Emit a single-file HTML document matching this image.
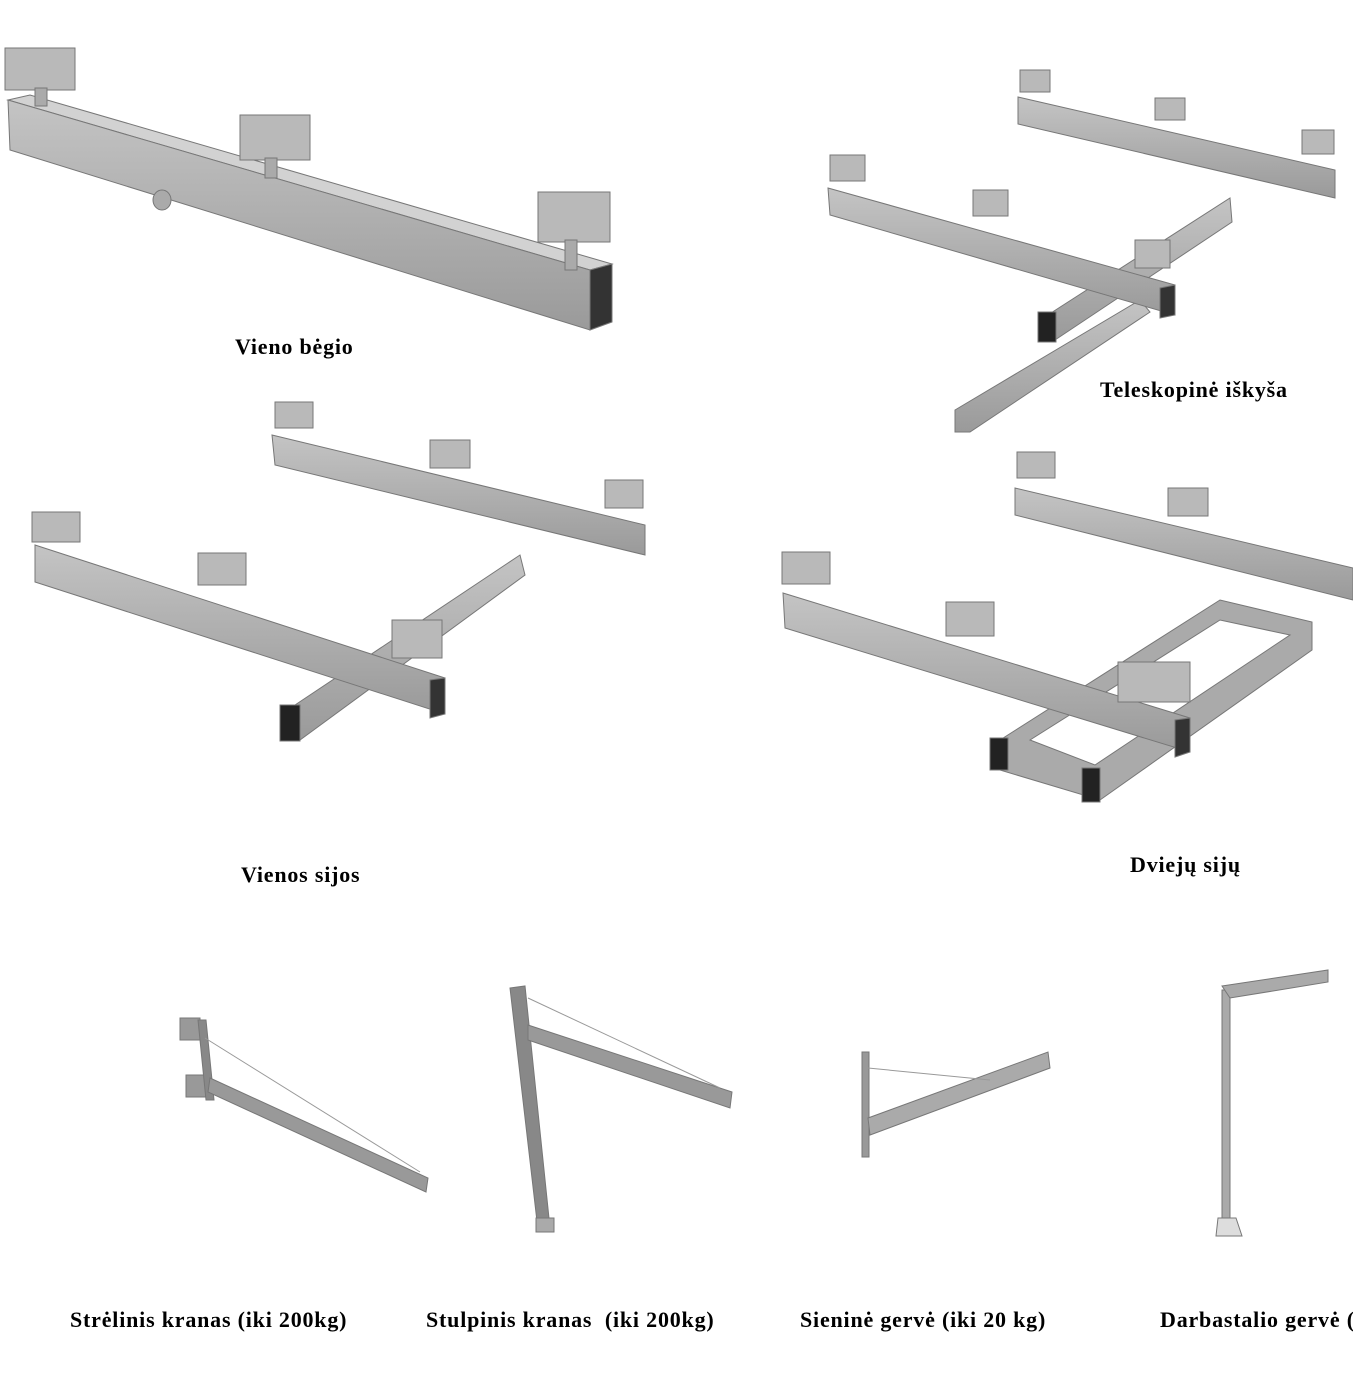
<!DOCTYPE html>
<html><head><meta charset="utf-8"><style>
html,body{margin:0;padding:0;background:#fff;}
body{width:1353px;height:1393px;position:relative;overflow:hidden;}
svg{position:absolute;left:0;top:0;}
.t{position:absolute;font-family:"Liberation Serif",serif;font-weight:bold;font-size:22px;letter-spacing:0.8px;color:#000;white-space:nowrap;}
</style></head><body>
<svg width="1353" height="1393" viewBox="0 0 1353 1393">
<defs>
<linearGradient id="g" x1="0" y1="0" x2="0" y2="1"><stop offset="0" stop-color="#c4c4c4"/><stop offset="1" stop-color="#9a9a9a"/></linearGradient>
</defs>
<g stroke="#777" stroke-width="1">
<polygon points="8,100 30,95 612,264 590,270" fill="#d2d2d2"/>
<polygon points="8,100 590,270 590,330 10,150" fill="url(#g)"/>
<polygon points="590,270 612,264 612,322 590,330" fill="#333"/>
<ellipse cx="162" cy="200" rx="9" ry="10" fill="#aaa"/>
<rect x="5" y="48" width="70" height="42" fill="#b9b9b9"/><rect x="35" y="88" width="12" height="18" fill="#aaa"/>
<rect x="240" y="115" width="70" height="45" fill="#b9b9b9"/><rect x="265" y="158" width="12" height="20" fill="#aaa"/>
<rect x="538" y="192" width="72" height="50" fill="#b9b9b9"/><rect x="565" y="240" width="12" height="30" fill="#aaa"/>
<polygon points="955,410 1140,300 1150,312 970,432 955,432" fill="url(#g)"/>
<polygon points="1040,320 1230,198 1232,222 1055,340" fill="url(#g)"/>
<rect x="1038" y="312" width="18" height="30" fill="#222"/>
<polygon points="1018,97 1335,170 1335,198 1018,124" fill="url(#g)"/>
<polygon points="828,188 1175,285 1175,315 830,215" fill="url(#g)"/>
<polygon points="1160,288 1175,285 1175,315 1160,318" fill="#333"/>
<rect x="1020" y="70" width="30" height="22" fill="#b9b9b9"/><rect x="1155" y="98" width="30" height="22" fill="#b9b9b9"/><rect x="1302" y="130" width="32" height="24" fill="#b9b9b9"/>
<rect x="830" y="155" width="35" height="26" fill="#b9b9b9"/><rect x="973" y="190" width="35" height="26" fill="#b9b9b9"/><rect x="1135" y="240" width="35" height="28" fill="#b9b9b9"/>
<polygon points="272,435 645,525 645,555 275,465" fill="url(#g)"/>
<polygon points="280,715 520,555 525,575 300,740 280,740" fill="url(#g)"/>
<rect x="280" y="705" width="20" height="36" fill="#222"/>
<polygon points="35,545 445,678 445,714 35,582" fill="url(#g)"/>
<polygon points="430,680 445,678 445,714 430,718" fill="#333"/>
<rect x="275" y="402" width="38" height="26" fill="#b9b9b9"/><rect x="430" y="440" width="40" height="28" fill="#b9b9b9"/><rect x="605" y="480" width="38" height="28" fill="#b9b9b9"/>
<rect x="32" y="512" width="48" height="30" fill="#b9b9b9"/><rect x="198" y="553" width="48" height="32" fill="#b9b9b9"/><rect x="392" y="620" width="50" height="38" fill="#b9b9b9"/>
<polygon points="1015,488 1353,568 1353,600 1015,515" fill="url(#g)"/>
<polygon points="1000,740 1220,600 1312,622 1312,650 1100,800 1000,770" fill="#aaa"/>
<polygon points="1030,740 1220,620 1290,635 1095,765" fill="#fff"/>
<rect x="990" y="738" width="18" height="32" fill="#222"/><rect x="1082" y="768" width="18" height="34" fill="#222"/>
<polygon points="783,593 1190,718 1190,752 785,628" fill="url(#g)"/>
<polygon points="1175,720 1190,718 1190,752 1175,757" fill="#333"/>
<rect x="1118" y="662" width="72" height="40" fill="#b9b9b9"/>
<rect x="1017" y="452" width="38" height="26" fill="#b9b9b9"/><rect x="1168" y="488" width="40" height="28" fill="#b9b9b9"/>
<rect x="782" y="552" width="48" height="32" fill="#b9b9b9"/><rect x="946" y="602" width="48" height="34" fill="#b9b9b9"/>
<rect x="180" y="1018" width="20" height="22" fill="#999"/><rect x="186" y="1075" width="22" height="22" fill="#999"/>
<polygon points="198,1020 206,1020 214,1100 206,1100" fill="#888"/>
<polygon points="210,1078 428,1178 426,1192 208,1092" fill="#999"/>
<line x1="205" y1="1038" x2="420" y2="1172" stroke="#999"/>
<polygon points="510,988 525,986 550,1228 538,1230" fill="#888"/>
<rect x="536" y="1218" width="18" height="14" fill="#aaa"/>
<polygon points="528,1025 732,1092 730,1108 528,1040" fill="#999"/>
<line x1="528" y1="998" x2="720" y2="1088" stroke="#999"/>
<rect x="862" y="1052" width="7" height="105" fill="#999"/>
<polygon points="868,1118 1048,1052 1050,1068 870,1135" fill="#aaa"/>
<line x1="868" y1="1068" x2="990" y2="1080" stroke="#999"/>
<rect x="1222" y="990" width="8" height="228" fill="#aaa"/>
<polygon points="1222,986 1328,970 1328,982 1230,998" fill="#aaa"/>
<polygon points="1218,1218 1236,1218 1242,1236 1216,1236" fill="#ddd"/>
</g>
</svg>
<div class="t" style="left:235px;top:334px;">Vieno bėgio</div>
<div class="t" style="left:1100px;top:377px;">Teleskopinė iškyša</div>
<div class="t" style="left:241px;top:862px;">Vienos sijos</div>
<div class="t" style="left:1130px;top:852px;">Dviejų sijų</div>
<div class="t" style="left:70px;top:1307px;">Strėlinis kranas (iki 200kg)</div>
<div class="t" style="left:426px;top:1307px;">Stulpinis kranas&nbsp; (iki 200kg)</div>
<div class="t" style="left:800px;top:1307px;">Sieninė gervė (iki 20 kg)</div>
<div class="t" style="left:1160px;top:1307px;">Darbastalio gervė (</div>
</body></html>
